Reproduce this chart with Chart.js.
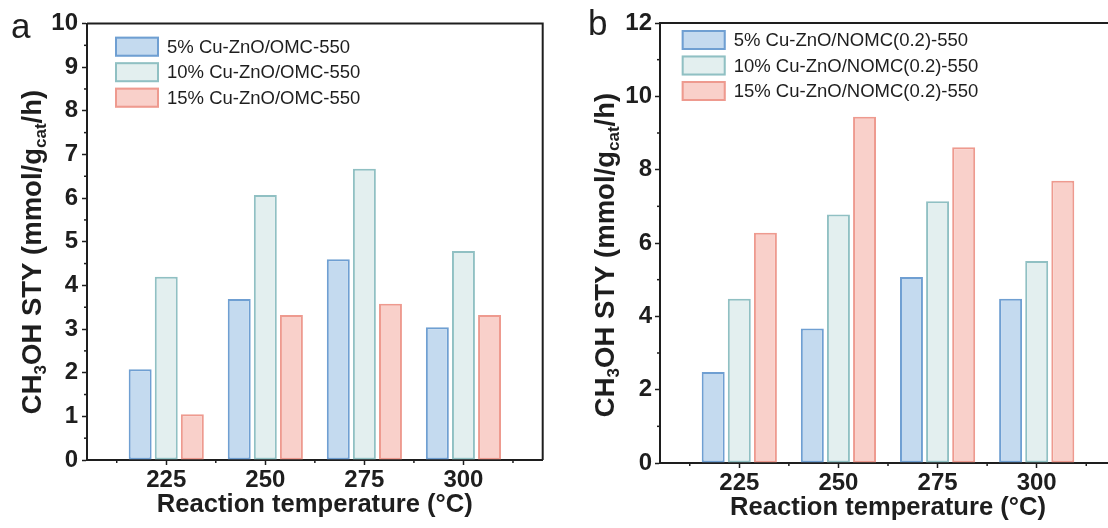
<!DOCTYPE html>
<html>
<head>
<meta charset="utf-8">
<script src="https://cdn.jsdelivr.net/npm/chart.js@4/dist/chart.umd.min.js"></script>
<style>
  html, body { margin: 0; padding: 0; background: #fff; overflow: hidden; }
  #wrapA { position: absolute; left: 0; top: 0; }
  #wrapB { position: absolute; left: 560px; top: 0; }
</style>
</head>
<body>
<div id="wrapA"><canvas id="chartA" width="560" height="528"></canvas></div>
<div id="wrapB"><canvas id="chartB" width="600" height="528"></canvas></div>
<script>
// reaction temperatures (°C)
const temps = [225, 250, 275, 300];

// panel a: Cu-ZnO/OMC-550
const labelsA = ["5% Cu-ZnO/OMC-550", "10% Cu-ZnO/OMC-550", "15% Cu-ZnO/OMC-550"];
const a5 = [2.08, 3.69, 4.60, 3.04];
const a10 = [4.20, 6.07, 6.67, 4.79];
const a15 = [1.05, 3.32, 3.58, 3.32];

// panel b: Cu-ZnO/NOMC(0.2)-550
const labelsB = ["5% Cu-ZnO/NOMC(0.2)-550", "10% Cu-ZnO/NOMC(0.2)-550", "15% Cu-ZnO/NOMC(0.2)-550"];
const b5 = [2.48, 3.67, 5.07, 4.48];
const b10 = [4.48, 6.78, 7.14, 5.51];
const b15 = [6.28, 9.44, 8.61, 7.70];

const yTitle = [["CH", 0], ["3", 1], ["OH STY (mmol/g", 0], ["cat", 1], ["/h)", 0]];
const xTitle = "Reaction temperature (\u00B0C)";

const FONT = "'Liberation Sans', Arial, Helvetica, sans-serif";
const INK = "#1e1e1e";
const fills = ["#c4daef", "#e3efef", "#f9d0ca"];
const edges = ["#6f9fd2", "#90c0c3", "#ee9a8f"];

function makeSets(labels, series) {
  return series.map((vals, i) => ({
    label: labels[i],
    data: vals,
    backgroundColor: fills[i],
    borderColor: edges[i],
    borderWidth: 2,
    borderSkipped: false,
    categoryPercentage: 0.79,
    barPercentage: 0.88
  }));
}

// frame, minor ticks, legend, y title with subscripts, panel letter
const decor = {
  id: "decor",
  afterDraw(chart, args, o) {
    const { ctx, chartArea: a, scales: { x, y } } = chart;
    ctx.save();
    ctx.strokeStyle = INK;
    ctx.lineWidth = 2;
    ctx.beginPath();
    ctx.moveTo(a.left, a.top);
    ctx.lineTo(a.right, a.top);
    ctx.lineTo(a.right, a.bottom);
    ctx.stroke();

    // minor ticks halfway between major ones
    ctx.lineWidth = 1.5;
    const yt = y.ticks.map(t => t.value);
    for (let i = 0; i < yt.length - 1; i++) {
      const py = y.getPixelForValue((yt[i] + yt[i + 1]) / 2);
      ctx.beginPath(); ctx.moveTo(a.left - 3, py); ctx.lineTo(a.left, py); ctx.stroke();
    }
    const xt = x.ticks.map(t => t.value);
    const step = xt[1] - xt[0];
    const xm = [xt[0] - step / 2].concat(xt.map(v => v + step / 2));
    xm.forEach(v => {
      const px = x.getPixelForValue(v);
      if (px < a.left || px > a.right) return;
      ctx.beginPath(); ctx.moveTo(px, a.bottom); ctx.lineTo(px, a.bottom + 3); ctx.stroke();
    });

    // legend
    ctx.font = "18.5px " + FONT;
    ctx.textBaseline = "middle";
    ctx.textAlign = "left";
    chart.data.datasets.forEach((ds, i) => {
      const by = o.legY + i * 25.5;
      ctx.fillStyle = ds.backgroundColor;
      ctx.fillRect(o.legX, by, 44, 20);
      ctx.strokeStyle = ds.borderColor;
      ctx.lineWidth = 2;
      ctx.strokeRect(o.legX + 1, by + 1, 42, 18);
      ctx.fillStyle = INK;
      ctx.fillText(ds.label, o.legX + 52, by + 11);
    });

    // rotated y title with subscripts
    const size = 27.5, sub = 0.62;
    ctx.translate(o.titleX, o.titleY);
    ctx.rotate(-Math.PI / 2);
    ctx.textBaseline = "alphabetic";
    let total = 0;
    yTitle.forEach(([t, s]) => {
      ctx.font = "bold " + (s ? size * sub : size) + "px " + FONT;
      total += ctx.measureText(t).width;
    });
    let cx = -total / 2;
    yTitle.forEach(([t, s]) => {
      ctx.font = "bold " + (s ? size * sub : size) + "px " + FONT;
      ctx.fillStyle = INK;
      ctx.fillText(t, cx, s ? size * 0.2 : 0);
      cx += ctx.measureText(t).width;
    });
    ctx.setTransform(1, 0, 0, 1, 0, 0);

    // panel letter
    ctx.font = "35px " + FONT;
    ctx.fillStyle = INK;
    ctx.fillText(o.letter, o.letterX, o.letterY);
    ctx.restore();
  }
};

function makeChart(id, labels, series, cfg) {
  return new Chart(document.getElementById(id), {
    type: "bar",
    data: { labels: temps, datasets: makeSets(labels, series) },
    plugins: [decor],
    options: {
      responsive: false,
      animation: false,
      layout: { padding: { left: 0, top: cfg.top, right: cfg.right, bottom: 0 } },
      plugins: {
        legend: { display: false },
        tooltip: { enabled: false },
        decor: cfg.decor
      },
      scales: {
        x: {
          type: "linear",
          min: 205,
          max: 320,
          offset: false,
          afterBuildTicks: s => { s.ticks = temps.map(v => ({ value: v })); },
          afterFit: s => { s.height = cfg.xHeight; },
          grid: { offset: false, drawOnChartArea: false, drawTicks: true, tickLength: 5, tickColor: INK, tickWidth: 1.5 },
          border: { display: true, color: INK, width: 2 },
          ticks: { color: INK, padding: 1, font: { family: FONT, size: 24, weight: "bold" } },
          title: {
            display: true, text: xTitle, color: INK,
            padding: { top: 0, bottom: cfg.xTitlePad },
            font: { family: FONT, size: 25.6, weight: "bold" }
          }
        },
        y: {
          min: 0,
          max: cfg.yMax,
          afterFit: s => { s.width = cfg.yWidth; },
          grid: { drawOnChartArea: false, drawTicks: true, tickLength: 5, tickColor: INK, tickWidth: 1.5 },
          border: { display: true, color: INK, width: 2 },
          ticks: { stepSize: cfg.yStep, color: INK, padding: cfg.yPad, font: { family: FONT, size: 24, weight: "bold" } }
        }
      }
    }
  });
}

makeChart("chartA", labelsA, [a5, a10, a15], {
  top: 23.5, right: 17.3, xHeight: 68, xTitlePad: 7.5, yMax: 10, yStep: 1, yWidth: 87, yPad: 4,
  decor: { legX: 115, legY: 36.7, titleX: 40.7, titleY: 252, letter: "a", letterX: 11, letterY: 38 }
});

makeChart("chartB", labelsB, [b5, b10, b15], {
  top: 23, right: 44, xHeight: 65, xTitlePad: 4.5, yMax: 12, yStep: 2, yWidth: 100, yPad: 3,
  decor: { legX: 121.7, legY: 30, titleX: 53.7, titleY: 255, letter: "b", letterX: 28, letterY: 35 }
});
</script>
</body>
</html>
